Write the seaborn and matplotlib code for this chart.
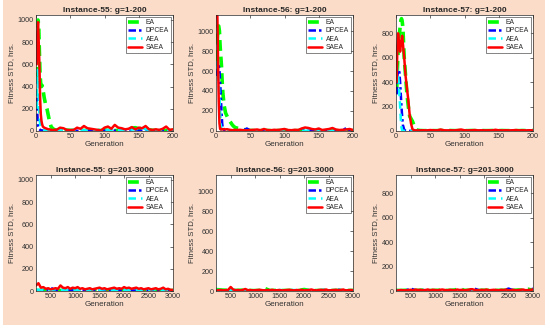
import matplotlib
matplotlib.use("Agg")
import matplotlib.pyplot as plt
from matplotlib.patches import Rectangle
import seaborn as sns
import pandas as pd

# ---------------- data ----------------
series_names = ["EA", "DPCEA", "AEA", "SAEA"]
instances = ["55", "56", "57"]

gen_top = [1, 2, 3, 4, 5, 6, 7, 8, 9, 10, 12, 14, 16, 18, 20, 22, 24, 26, 28, 30] + list(range(35, 201, 5))
gen_bot_fine = list(range(200, 3001, 50))
gen_bot_coarse = list(range(200, 3001, 100))

# Instance-55, g=1-200
EA_55 = [480, 980, 1000, 950, 700, 500, 420, 400, 410, 380, 300, 240, 200, 140, 80, 40, 25, 15, 10, 8,
         6, 5, 8, 6, 5, 4, 6, 5, 4, 5, 6, 5, 4, 8, 6, 5, 4, 6, 5, 8, 15, 25, 30, 20, 25, 30, 10, 6, 5, 4, 6, 5, 4, 5]
DPCEA_55 = [300, 150, 40, 20, 15, 10, 8, 6, 5, 5, 4, 4, 3, 3, 3, 3, 2, 2, 2, 2,
            2, 3, 2, 2, 3, 2, 2, 3, 2, 2, 3, 2, 2, 3, 2, 2, 3, 2, 5, 8, 10, 5, 3, 2, 3, 2, 2, 3, 2, 2, 3, 2, 2, 3]
AEA_55 = [200, 550, 520, 300, 150, 60, 30, 20, 15, 12, 10, 10, 10, 8, 8, 8, 6, 6, 6, 6,
          8, 10, 6, 8, 10, 12, 8, 6, 10, 8, 6, 8, 10, 6, 8, 12, 10, 8, 6, 8, 10, 12, 15, 20, 30, 15, 10, 8, 6, 8, 10, 8, 6, 5]
SAEA_55 = [600, 900, 980, 800, 600, 300, 150, 90, 60, 40, 30, 25, 20, 15, 15, 10, 8, 10, 12, 10,
           30, 25, 10, 8, 10, 30, 20, 45, 25, 20, 15, 10, 5, 30, 40, 20, 55, 30, 25, 15,
           20, 35, 15, 30, 25, 45, 15, 10, 15, 10, 20, 40, 10, 15]

# Instance-56, g=1-200
EA_56 = [700, 900, 1050, 1050, 1000, 850, 750, 650, 500, 380, 250, 180, 150, 120, 100, 80, 60, 45, 35, 30,
         25, 15, 8, 5, 4, 5, 4, 3, 5, 4, 4, 5, 3, 4, 5, 4, 3, 4, 5, 4, 4, 3, 5, 4, 3, 4, 5, 4, 3, 4, 5, 4, 3, 4]
DPCEA_56 = [550, 600, 650, 650, 620, 500, 350, 200, 80, 20, 10, 8, 6, 5, 5, 5, 5, 5, 5, 5,
            5, 5, 25, 5, 4, 5, 4, 5, 4, 5, 4, 5, 4, 5, 4, 5, 4, 5, 4, 5, 4, 5, 4, 5, 4, 5, 4, 5, 4, 5, 4, 30, 5, 4]
AEA_56 = [700, 650, 600, 500, 350, 200, 60, 10, 5, 4, 3, 3, 3, 3, 3, 3, 3, 3, 3, 3,
          3, 4, 3, 2, 3, 4, 3, 2, 3, 4, 3, 2, 3, 4, 3, 2, 3, 4, 3, 2, 3, 4, 3, 2, 3, 4, 3, 2, 3, 4, 3, 2, 3, 4]
SAEA_56 = [1150, 1150, 700, 300, 80, 20, 15, 20, 18, 15, 20, 15, 18, 15, 12, 10, 8, 10, 12, 10,
           12, 8, 6, 10, 12, 15, 8, 20, 10, 8, 12, 10, 15, 20, 10, 8, 12, 10, 25, 35,
           30, 20, 15, 25, 10, 15, 20, 30, 15, 10, 12, 15, 20, 10]

# Instance-57, g=1-200
EA_57 = [350, 500, 650, 750, 800, 850, 900, 920, 900, 850, 600, 450, 300, 200, 120, 100, 80, 50, 20, 8,
         4, 3, 3, 4, 3, 3, 4, 3, 3, 4, 3, 3, 4, 3, 3, 4, 3, 3, 4, 3, 3, 4, 3, 3, 4, 3, 3, 4, 3, 3, 4, 3, 12, 3]
DPCEA_57 = [300, 450, 500, 500, 480, 400, 300, 200, 120, 50, 10, 3, 2, 2, 1, 1, 1, 1, 1, 1,
            1, 2, 1, 1, 2, 1, 1, 2, 1, 1, 2, 1, 1, 2, 1, 1, 2, 1, 1, 2, 1, 1, 2, 1, 1, 2, 1, 1, 2, 1, 1, 2, 1, 1]
AEA_57 = [550, 500, 450, 400, 300, 200, 100, 30, 5, 2, 1, 1, 1, 1, 1, 1, 1, 1, 1, 1,
          1, 1, 2, 1, 1, 2, 1, 1, 2, 1, 1, 2, 1, 1, 2, 1, 1, 2, 1, 1, 2, 1, 1, 2, 1, 1, 2, 1, 1, 2, 1, 1, 2, 1]
SAEA_57 = [400, 700, 800, 750, 700, 650, 700, 750, 780, 720, 600, 450, 350, 250, 130, 60, 15, 8, 5, 5,
           5, 6, 5, 8, 6, 5, 12, 6, 5, 6, 5, 8, 12, 6, 5, 6, 8, 5, 6, 5, 6, 5, 10, 6, 5, 6, 5, 6, 8, 5, 6, 5, 6, 5]

# g=201-3000 (SAEA sampled every 50 generations, others every 100)
B_SAEA_55 = [50, 70, 30, 35, 20, 25, 15, 20, 25, 20, 50, 30, 25, 35, 20, 30, 25, 35, 20, 25,
             15, 20, 25, 15, 20, 25, 30, 20, 25, 15, 20, 25, 30, 20, 25, 20, 35, 25, 30, 20,
             25, 30, 20, 25, 15, 20, 25, 15, 20, 25, 15, 20, 30, 15, 20, 10, 10]
B_EA_55 = [5, 4, 6, 5, 4, 5, 6, 4, 5, 6, 4, 5, 6, 5, 4, 5, 6, 4, 5, 6, 4, 5, 6, 5, 4, 5, 6, 4, 5]
B_DPCEA_55 = [3, 5, 4, 30, 5, 4, 6, 5, 4, 5, 6, 5, 4, 5, 6, 5, 4, 5, 6, 5, 4, 5, 6, 5, 4, 5, 6, 4, 3]
B_AEA_55 = [10, 12, 8, 10, 15, 10, 8, 12, 10, 8, 10, 12, 8, 10, 15, 10, 8, 12, 10, 8, 10, 12, 8, 10, 15, 10, 8, 12, 10]

B_SAEA_56 = [5, 8, 10, 6, 8, 12, 40, 15, 8, 10, 6, 12, 20, 8, 10, 6, 8, 10, 12, 8,
             6, 10, 8, 12, 6, 8, 10, 6, 8, 10, 12, 8, 6, 10, 8, 12, 6, 8, 10, 15,
             8, 6, 10, 12, 8, 15, 6, 8, 10, 12, 8, 10, 15, 6, 8, 10, 8]
B_EA_56 = [15, 10, 8, 6, 5, 8, 6, 5, 4, 6, 25, 5, 6, 4, 5, 6, 4, 5, 15, 6, 4, 5, 6, 4, 5, 6, 4, 5, 6]
B_DPCEA_56 = [5, 4, 6, 5, 4, 5, 6, 4, 5, 6, 4, 5, 6, 5, 4, 5, 10, 4, 5, 6, 4, 5, 10, 5, 4, 12, 6, 4, 5]
B_AEA_56 = [10, 8, 6, 8, 10, 6, 8, 10, 6, 8, 10, 6, 8, 10, 6, 8, 10, 6, 8, 10, 6, 8, 10, 6, 8, 10, 6, 8, 10]

B_SAEA_57 = [3, 5, 8, 6, 5, 8, 10, 6, 12, 8, 10, 6, 8, 12, 6, 10, 8, 6, 10, 12,
             8, 6, 10, 8, 6, 12, 8, 10, 6, 8, 12, 15, 10, 8, 6, 10, 8, 12, 6, 8,
             10, 8, 6, 10, 8, 12, 6, 8, 10, 6, 8, 10, 12, 6, 8, 10, 12]
B_EA_57 = [5, 4, 6, 5, 4, 6, 8, 4, 5, 6, 4, 5, 8, 20, 5, 6, 4, 5, 6, 5, 4, 5, 6, 4, 5, 8, 6, 15, 5]
B_DPCEA_57 = [3, 4, 5, 20, 5, 4, 10, 5, 4, 6, 4, 5, 6, 5, 4, 5, 20, 6, 5, 4, 6, 5, 4, 20, 5, 4, 6, 5, 20]
B_AEA_57 = [2, 3, 2, 3, 2, 3, 2, 3, 2, 3, 2, 3, 2, 3, 2, 3, 2, 3, 2, 3, 2, 3, 2, 3, 2, 3, 2, 3, 2]

y_max = {"55": 1045, "56": 1160, "57": 950}
y_ticks = {"55": [0, 200, 400, 600, 800, 1000],
           "56": [0, 200, 400, 600, 800, 1000],
           "57": [0, 200, 400, 600, 800]}

top_data = {
    "55": [EA_55, DPCEA_55, AEA_55, SAEA_55],
    "56": [EA_56, DPCEA_56, AEA_56, SAEA_56],
    "57": [EA_57, DPCEA_57, AEA_57, SAEA_57],
}
bot_data = {
    "55": [B_EA_55, B_DPCEA_55, B_AEA_55, B_SAEA_55],
    "56": [B_EA_56, B_DPCEA_56, B_AEA_56, B_SAEA_56],
    "57": [B_EA_57, B_DPCEA_57, B_AEA_57, B_SAEA_57],
}

# ---------------- style ----------------
sns.set_style("white")
plt.rcParams["font.family"] = ["Liberation Sans", "DejaVu Sans"]

styles = {
    "EA": dict(color="#00FF00", linestyle=(0, (3.0, 1.6)), linewidth=2.6),
    "DPCEA": dict(color="#0000FF", linestyle=(0, (3.0, 1.2, 1.0, 1.2)), linewidth=1.8),
    "AEA": dict(color="#00FFFF", linestyle=(0, (3.0, 2.0)), linewidth=1.8),
    "SAEA": dict(color="#FF0000", linestyle="-", linewidth=1.8),
}

peach = "#FBDCC8"
fig = plt.figure(figsize=(5.5, 3.31), dpi=100)
fig.patch.set_facecolor("white")
fig.patches.append(Rectangle((3 / 550, 6 / 331), 542 / 550, 325 / 331,
                             transform=fig.transFigure, facecolor=peach,
                             edgecolor="none", zorder=-10))

lefts = [36, 216, 396]
W = 137 / 550
H = 116 / 331
bottoms = [1 - 131 / 331, 1 - 291 / 331]
txt = "#333333"

for row in range(2):
    for col, inst in enumerate(instances):
        ax = fig.add_axes([lefts[col] / 550, bottoms[row], W, H])
        ax.set_facecolor("white")
        if row == 0:
            vals = top_data[inst]
            xs = [gen_top] * 4
        else:
            vals = bot_data[inst]
            xs = [gen_bot_coarse, gen_bot_coarse, gen_bot_coarse, gen_bot_fine]
        for name, x, y in zip(series_names, xs, vals):
            df = pd.DataFrame({"Generation": x, "STD": y})
            sns.lineplot(data=df, x="Generation", y="STD", ax=ax, label=name,
                         estimator=None, sort=False, **styles[name])
        if row == 0:
            ax.set_xlim(0, 200)
            ax.set_xticks([0, 50, 100, 150, 200])
            ax.set_title(f"Instance-{inst}: g=1-200", fontsize=6.0, fontweight="bold", pad=2)
        else:
            ax.set_xlim(200, 3000)
            ax.set_xticks([500, 1000, 1500, 2000, 2500, 3000])
            ax.set_title(f"Instance-{inst}: g=201-3000", fontsize=6.0, fontweight="bold", pad=2)
        ax.set_ylim(0, y_max[inst])
        ax.set_yticks(y_ticks[inst])
        ax.set_xlabel("Generation", fontsize=5.8, labelpad=1, color=txt)
        ax.set_ylabel("Fitness STD, hrs.", fontsize=5.6, labelpad=2, color=txt)
        ax.tick_params(axis="both", which="both", direction="in", length=2, width=0.5,
                       labelsize=5.2, pad=1.5, top=True, right=True, colors=txt)
        for sp in ax.spines.values():
            sp.set_linewidth(0.5)
            sp.set_color("#262626")
        leg = ax.legend(loc="upper right", fontsize=4.9, frameon=True, fancybox=False,
                        handlelength=2.0, handletextpad=0.6, borderpad=0.3,
                        labelspacing=0.2, borderaxespad=0.3)
        leg.get_frame().set_edgecolor("#262626")
        leg.get_frame().set_linewidth(0.5)

fig.savefig("out.png", dpi=100, facecolor=fig.get_facecolor())
